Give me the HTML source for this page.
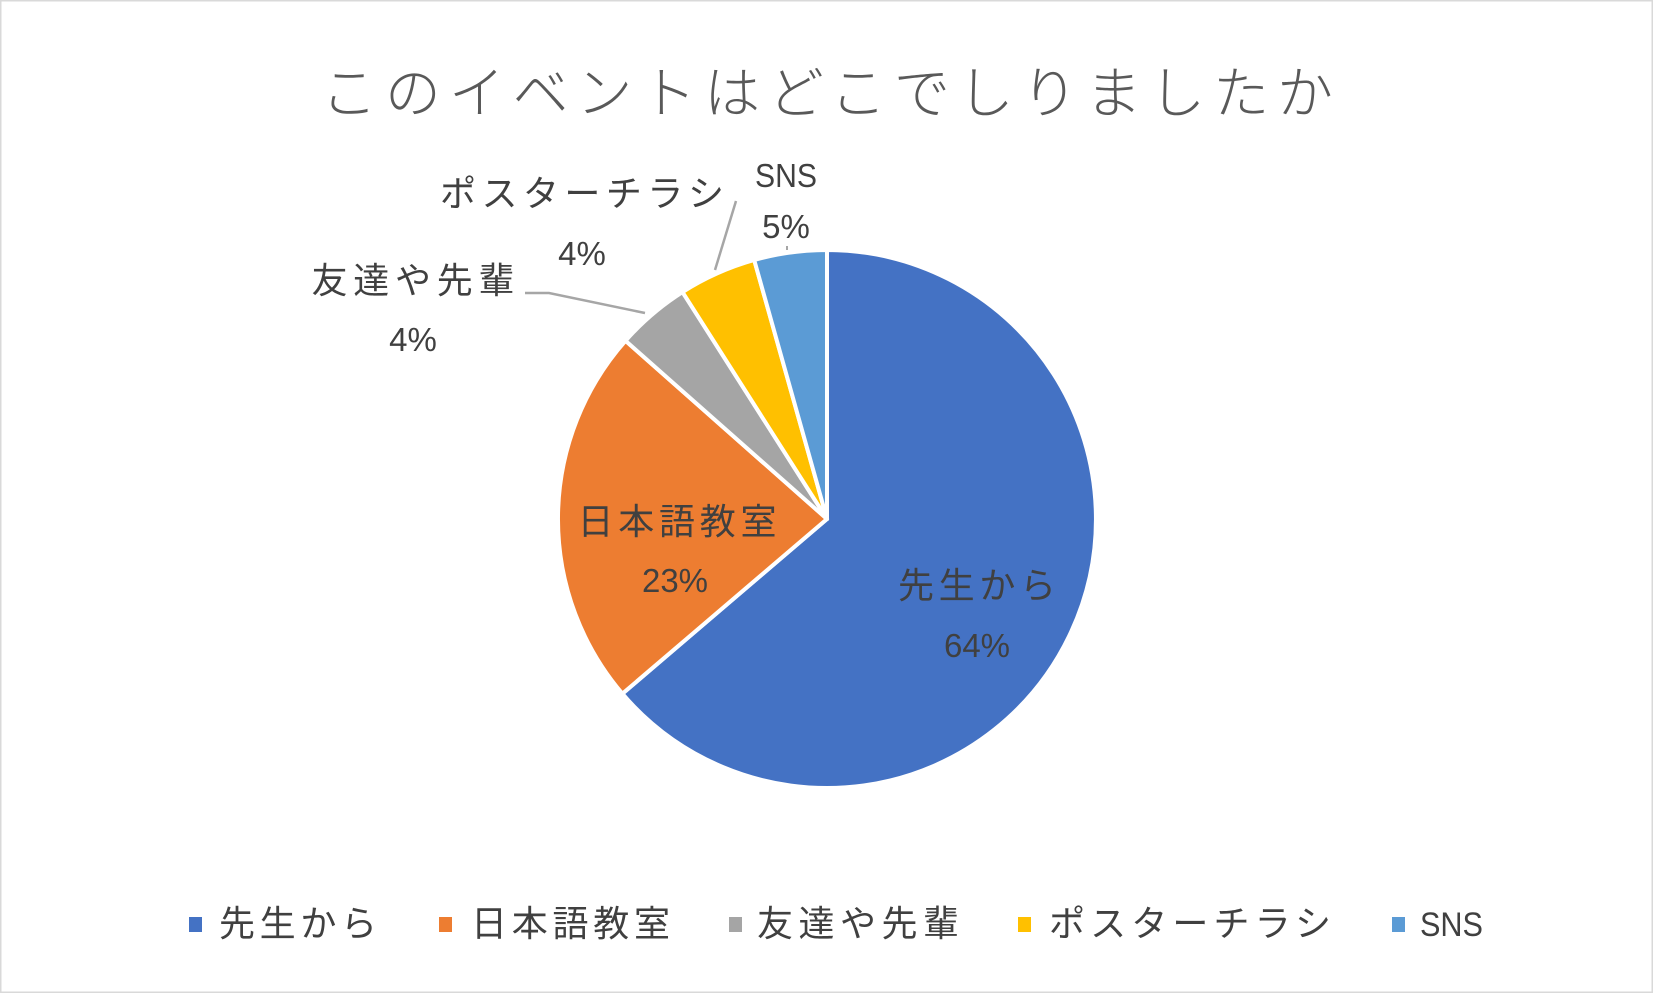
<!DOCTYPE html>
<html><head><meta charset="utf-8"><style>
html,body{margin:0;padding:0;background:#fff}
svg{display:block}
text{font-family:"Liberation Sans","Noto Sans CJK JP",sans-serif;fill:#404040}
</style></head><body>
<svg width="1653" height="993" viewBox="0 0 1653 993" xmlns="http://www.w3.org/2000/svg">
<rect x="0.5" y="0.5" width="1652" height="992" fill="#fff" stroke="#d9d9d9" stroke-width="2"/>
<text x="827" y="113" font-size="56" text-anchor="middle" style="fill:#595959;font-weight:300" textLength="1012" lengthAdjust="spacing">このイベントはどこでしりましたか</text>
<g stroke="#fff" stroke-width="4" stroke-linejoin="round">
<path d="M827,519 L827,250 A269,269 0 1 1 622.4,693.7 Z" fill="#4472c4"/>
<path d="M827,519 L622.4,693.7 A269,269 0 0 1 625.5,340.8 Z" fill="#ed7d31"/>
<path d="M827,519 L625.5,340.8 A269,269 0 0 1 682.5,292.1 Z" fill="#a5a5a5"/>
<path d="M827,519 L682.5,292.1 A269,269 0 0 1 754.2,260.0 Z" fill="#ffc000"/>
<path d="M827,519 L754.2,260.0 A269,269 0 0 1 827,250 Z" fill="#5b9bd5"/>
</g>
<polyline points="525,293 549,293 645,313" fill="none" stroke="#a6a6a6" stroke-width="2.5"/>
<line x1="736" y1="201" x2="715" y2="270" stroke="#a6a6a6" stroke-width="2.5"/>
<line x1="787" y1="246" x2="787" y2="250" stroke="#a6a6a6" stroke-width="2"/>
<g font-size="36" text-anchor="middle">
<text x="977" y="598" textLength="158" lengthAdjust="spacing">先生から</text>
<text x="977" y="657" font-size="33">64%</text>
<text x="677" y="534" textLength="199" lengthAdjust="spacing">日本語教室</text>
<text x="675" y="592" font-size="33">23%</text>
<text x="413" y="293" textLength="203" lengthAdjust="spacing">友達や先輩</text>
<text x="413" y="351" font-size="33">4%</text>
<text x="582" y="206" textLength="284" lengthAdjust="spacing">ポスターチラシ</text>
<text x="582" y="265" font-size="33">4%</text>
<text x="786" y="187" font-size="33" textLength="62" lengthAdjust="spacingAndGlyphs">SNS</text>
<text x="786" y="238" font-size="33">5%</text>
</g>
<g font-size="36">
<rect x="189" y="917" width="13" height="15" fill="#4472c4"/>
<text x="219" y="936" textLength="158" lengthAdjust="spacing">先生から</text>
<rect x="439" y="917" width="13" height="15" fill="#ed7d31"/>
<text x="471" y="936" textLength="199" lengthAdjust="spacing">日本語教室</text>
<rect x="729" y="917" width="13" height="15" fill="#a5a5a5"/>
<text x="757" y="936" textLength="202" lengthAdjust="spacing">友達や先輩</text>
<rect x="1018" y="917" width="13" height="15" fill="#ffc000"/>
<text x="1049" y="936" textLength="282" lengthAdjust="spacing">ポスターチラシ</text>
<rect x="1392" y="917" width="13" height="15" fill="#5b9bd5"/>
<text x="1420" y="936" font-size="34" textLength="63" lengthAdjust="spacingAndGlyphs">SNS</text>
</g>
</svg>
</body></html>
